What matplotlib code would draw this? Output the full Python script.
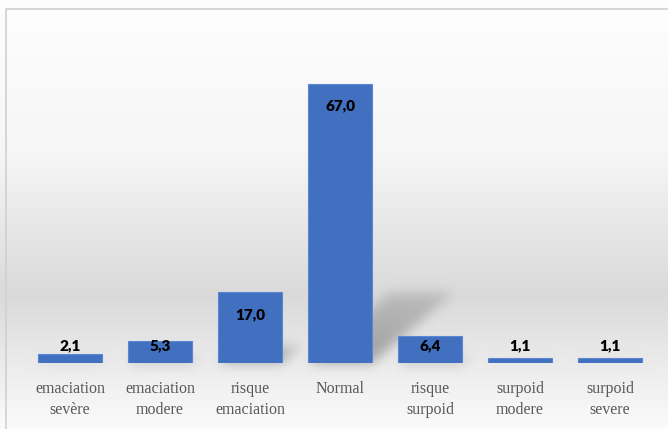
import numpy as np
import matplotlib.pyplot as plt
from matplotlib.path import Path
from matplotlib.patches import Rectangle

# données
categories = ['emaciation\nsevère', 'emaciation\nmodere', 'risque\nemaciation', 'Normal',
              'risque\nsurpoid', 'surpoid\nmodere', 'surpoid\nsevere']
values = [2.1, 5.3, 17.0, 67.0, 6.4, 1.1, 1.1]
value_labels = ['2,1', '5,3', '17,0', '67,0', '6,4', '1,1', '1,1']

W, H = 668, 429
fig = plt.figure(figsize=(W / 100, H / 100), dpi=100)

# axe principal
ax = fig.add_axes([25 / W, (H - 363) / H, 630 / W, 333 / H], zorder=2)
ax.set_facecolor('none')
x = np.arange(len(categories))
bars = ax.bar(x, values, width=0.71, color='#4270c0', edgecolor='#5b87d2', linewidth=0.8, zorder=3)
ax.set_xlim(-0.5, len(categories) - 0.5)
ax.set_ylim(0, 80)
for s in ax.spines.values():
    s.set_visible(False)
ax.set_yticks([])
ax.set_xticks(x)
ax.set_xticklabels(categories, family='Liberation Serif', fontsize=11.5, color='#595959',
                   linespacing=1.45)
ax.tick_params(axis='x', length=0, pad=13)

for xi, v, lab in zip(x, values, value_labels):
    ax.text(xi, max(v - 5.3, 4.1), lab, ha='center', va='center', fontsize=11,
            fontweight='heavy', family='Lato', color='black', zorder=4)

# fond dégradé + ombres
fig.canvas.draw()
rows = np.arange(H)
grey = np.interp(rows, [0, 150, 295, 360, 429], [0.995, 0.965, 0.855, 0.92, 0.985])
img = np.repeat(grey[:, None], W, axis=1)

shadow = np.zeros((H, W))
yy, xx = np.mgrid[0:H, 0:W]
pts = np.column_stack([xx.ravel() + 0.5, (H - yy.ravel() - 0.5)])
for b in bars:
    (x0, y0), (x1, y1) = ax.transData.transform([(b.get_x(), 0), (b.get_x() + b.get_width(), b.get_height())])
    hpx = y1 - y0
    dx, dh = 0.29 * hpx, 0.25 * hpx
    poly = Path([(x0, y0), (x1, y0), (x1 + dx, y0 + dh), (x0 + dx, y0 + dh), (x0, y0)])
    m = poly.contains_points(pts).reshape(H, W).astype(float)
    fade = np.clip(1 - (H - yy - y0) / max(dh, 1), 0, 1)
    shadow = np.maximum(shadow, m * (0.45 + 0.55 * fade))

k = np.exp(-0.5 * (np.arange(-15, 16) / 6.0) ** 2)
k /= k.sum()
shadow = np.apply_along_axis(lambda r: np.convolve(r, k, mode='same'), 1, shadow)
shadow = np.apply_along_axis(lambda c: np.convolve(c, k, mode='same'), 0, shadow)
img = img * (1 - 0.32 * shadow)

bg = fig.add_axes([0, 0, 1, 1], zorder=0)
bg.imshow(np.dstack([img] * 3), extent=[0, W, 0, H], origin='upper', aspect='auto')
bg.set_xlim(0, W)
bg.set_ylim(0, H)
bg.axis('off')
bg.add_patch(Rectangle((6, -5), W, H - 9 + 5, fill=False, edgecolor='#d0d0d0', linewidth=1.2))

fig.savefig('out.png', dpi=100)
